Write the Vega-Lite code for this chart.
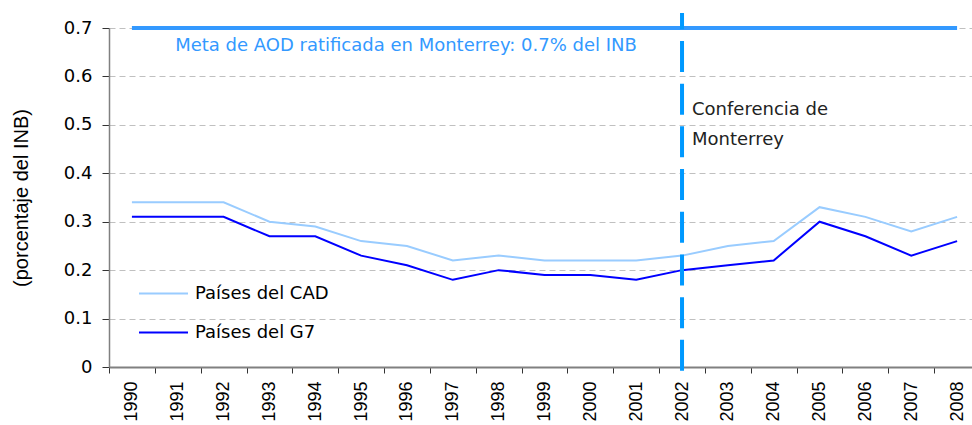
{
  "$schema": "https://vega.github.io/schema/vega-lite/v6.json",
  "autosize": "none",
  "width": 871,
  "height": 339,
  "padding": {"left": 109, "top": 28, "right": 0, "bottom": 58},
  "background": "white",
  "config": {
    "view": {"stroke": null},
    "font": "DejaVu Sans",
    "axis": {"labelColor": "#000", "titleColor": "#000"}
  },
  "datasets": {
    "series": [
      {"year": "1990", "serie": "Países del CAD", "value": 0.34},
      {"year": "1991", "serie": "Países del CAD", "value": 0.34},
      {"year": "1992", "serie": "Países del CAD", "value": 0.34},
      {"year": "1993", "serie": "Países del CAD", "value": 0.30},
      {"year": "1994", "serie": "Países del CAD", "value": 0.29},
      {"year": "1995", "serie": "Países del CAD", "value": 0.26},
      {"year": "1996", "serie": "Países del CAD", "value": 0.25},
      {"year": "1997", "serie": "Países del CAD", "value": 0.22},
      {"year": "1998", "serie": "Países del CAD", "value": 0.23},
      {"year": "1999", "serie": "Países del CAD", "value": 0.22},
      {"year": "2000", "serie": "Países del CAD", "value": 0.22},
      {"year": "2001", "serie": "Países del CAD", "value": 0.22},
      {"year": "2002", "serie": "Países del CAD", "value": 0.23},
      {"year": "2003", "serie": "Países del CAD", "value": 0.25},
      {"year": "2004", "serie": "Países del CAD", "value": 0.26},
      {"year": "2005", "serie": "Países del CAD", "value": 0.33},
      {"year": "2006", "serie": "Países del CAD", "value": 0.31},
      {"year": "2007", "serie": "Países del CAD", "value": 0.28},
      {"year": "2008", "serie": "Países del CAD", "value": 0.31},
      {"year": "1990", "serie": "Países del G7", "value": 0.31},
      {"year": "1991", "serie": "Países del G7", "value": 0.31},
      {"year": "1992", "serie": "Países del G7", "value": 0.31},
      {"year": "1993", "serie": "Países del G7", "value": 0.27},
      {"year": "1994", "serie": "Países del G7", "value": 0.27},
      {"year": "1995", "serie": "Países del G7", "value": 0.23},
      {"year": "1996", "serie": "Países del G7", "value": 0.21},
      {"year": "1997", "serie": "Países del G7", "value": 0.18},
      {"year": "1998", "serie": "Países del G7", "value": 0.20},
      {"year": "1999", "serie": "Países del G7", "value": 0.19},
      {"year": "2000", "serie": "Países del G7", "value": 0.19},
      {"year": "2001", "serie": "Países del G7", "value": 0.18},
      {"year": "2002", "serie": "Países del G7", "value": 0.20},
      {"year": "2003", "serie": "Países del G7", "value": 0.21},
      {"year": "2004", "serie": "Países del G7", "value": 0.22},
      {"year": "2005", "serie": "Países del G7", "value": 0.30},
      {"year": "2006", "serie": "Países del G7", "value": 0.27},
      {"year": "2007", "serie": "Países del G7", "value": 0.23},
      {"year": "2008", "serie": "Países del G7", "value": 0.26}
    ],
    "meta": [{"start": "1990", "end": "2008", "value": 0.7}]
  },
  "layer": [
    {
      "data": {"name": "series"},
      "mark": {"type": "line", "strokeWidth": 2},
      "encoding": {
        "x": {
          "field": "year", "type": "ordinal", "bandPosition": 0.5,
          "scale": {"type": "band", "paddingInner": 0, "paddingOuter": 0},
          "axis": {
            "title": null, "labelAngle": -90, "labelFontSize": 18, "labelFont": "Liberation Sans", "labelPadding": 8,
            "tickBand": "extent", "tickSize": 6, "tickColor": "#333", "domainColor": "#808080", "domainWidth": 2,
            "grid": false
          }
        },
        "y": {
          "field": "value", "type": "quantitative",
          "scale": {"domain": [0, 0.7], "nice": false, "zero": true},
          "axis": {
            "title": "(porcentaje del INB)", "titleFont": "Liberation Sans", "titleFontSize": 20, "titleFontWeight": "normal", "titlePadding": 32,
            "labelFontSize": 18, "labelFont": "DejaVu Sans", "format": ".1~f", "values": [0, 0.1, 0.2, 0.3, 0.4, 0.5, 0.6, 0.7],
            "grid": true, "gridColor": "#c0c0c0", "gridDash": [6, 4], "gridWidth": 1,
            "tickSize": 7, "tickColor": "#333", "domainColor": "#808080", "domainWidth": 1.5, "labelPadding": 10
          }
        },
        "color": {
          "field": "serie", "type": "nominal",
          "scale": {"domain": ["Países del CAD", "Países del G7"], "range": ["#99CCFF", "#0000FF"]},
          "legend": {
            "title": null, "orient": "none", "legendX": 29, "legendY": 240,
            "symbolType": "stroke", "symbolSize": 2400, "symbolStrokeWidth": 2,
            "labelFontSize": 18, "labelColor": "#000", "labelFont": "DejaVu Sans", "rowPadding": 4, "labelOffset": 6
          }
        }
      }
    },
    {
      "data": {"name": "meta"},
      "mark": {"type": "rule", "strokeWidth": 4, "color": "#3399FF"},
      "encoding": {
        "x": {"field": "start", "type": "ordinal", "bandPosition": 0.5},
        "x2": {"field": "end"},
        "y": {"field": "value", "type": "quantitative"}
      }
    },
    {
      "data": {"name": "meta"},
      "mark": {"type": "text", "color": "#3399FF", "fontSize": 18, "font": "DejaVu Sans", "align": "center", "baseline": "middle", "dy": 18, "dx": -1, "text": "Meta de AOD ratificada en Monterrey: 0.7% del INB"},
      "encoding": {
        "x": {"datum": "1996", "type": "ordinal", "bandPosition": 0.5},
        "y": {"field": "value", "type": "quantitative"}
      }
    },
    {
      "data": {"values": [{"year": "2002", "top": 0.731, "bottom": -0.008}]},
      "mark": {"type": "rule", "strokeWidth": 4, "color": "#0099FF", "strokeDash": [31, 11.7]},
      "encoding": {
        "x": {"field": "year", "type": "ordinal", "bandPosition": 0.5},
        "y": {"field": "bottom", "type": "quantitative"},
        "y2": {"field": "top"}
      }
    },
    {
      "data": {"values": [{"year": "2002", "value": 0.53}]},
      "mark": {"type": "text", "color": "#222", "fontSize": 18, "font": "DejaVu Sans", "align": "left", "baseline": "middle", "dx": 10, "lineHeight": 30, "text": ["Conferencia de", "Monterrey"]},
      "encoding": {
        "x": {"field": "year", "type": "ordinal", "bandPosition": 0.5},
        "y": {"field": "value", "type": "quantitative"}
      }
    }
  ]
}
